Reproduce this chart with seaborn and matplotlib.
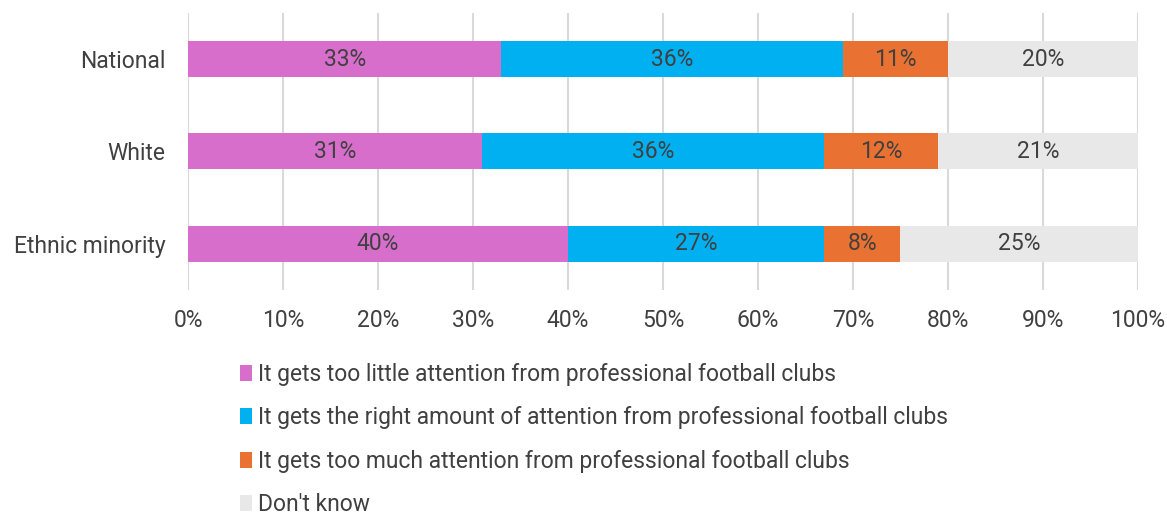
import matplotlib
matplotlib.use("Agg")
import matplotlib.pyplot as plt
from matplotlib.patches import Patch
from matplotlib.ticker import PercentFormatter
import numpy as np
import pandas as pd
import seaborn as sns

groups = ["National", "White", "Ethnic minority"]
series_names = [
    "It gets too little attention from professional football clubs",
    "It gets the right amount of attention from professional football clubs",
    "It gets too much attention from professional football clubs",
    "Don't know",
]
too_little = [33, 31, 40]
right_amount = [36, 36, 27]
too_much = [11, 12, 8]
dont_know = [20, 21, 25]
colors = ["#D86ECC", "#00B0F0", "#E97132", "#E8E8E8"]
text_color = "#404040"
fs = 16.5

sns.set_theme(style="white")
plt.rcParams["font.family"] = ["Roboto", "DejaVu Sans"]

values = np.array([too_little, right_amount, too_much, dont_know], dtype=float) / 100
cum = np.cumsum(values, axis=0)

fig = plt.figure(figsize=(11.67, 5.17), dpi=100)
ax = fig.add_axes([0.1611, 0.439, 0.8140, 0.536])

# stacked horizontal bars: draw the cumulative totals from the outermost segment inwards
for i in reversed(range(len(series_names))):
    df = pd.DataFrame({"group": groups, "value": cum[i]})
    sns.barplot(data=df, x="value", y="group", orient="h", color=colors[i],
                saturation=1, width=0.39, linewidth=0, ax=ax, zorder=2)

# segment value labels
for i in range(len(series_names)):
    for j in range(len(groups)):
        start = cum[i, j] - values[i, j]
        ax.text(start + values[i, j] / 2, j, f"{values[i, j] * 100:.0f}%",
                ha="center", va="center", fontsize=fs, color=text_color, zorder=3)

ax.set_xlim(0, 1)
ax.set_ylim(2.5, -0.5)
ax.set_xticks(np.arange(0, 1.01, 0.1))
ax.xaxis.set_major_formatter(PercentFormatter(1.0, decimals=0))
ax.set_xlabel("")
ax.set_ylabel("")
ax.grid(axis="x", color="#D9D9D9", linewidth=1.5, zorder=0)
ax.grid(axis="y", visible=False)
ax.set_axisbelow(True)
for s in ax.spines.values():
    s.set_visible(False)
ax.tick_params(axis="x", length=0, pad=14, labelsize=fs, labelcolor=text_color)
ax.tick_params(axis="y", length=0, pad=16, labelsize=fs, labelcolor=text_color)

handles = [Patch(facecolor=c, edgecolor="none") for c in colors]
fig.legend(handles, series_names, loc="upper left", bbox_to_anchor=(0.2057, 0.298),
           frameon=False, fontsize=fs, labelcolor=text_color, handlelength=0.5,
           handleheight=0.7, handletextpad=0.3, labelspacing=0.89,
           borderaxespad=0, borderpad=0)

fig.savefig("out.png", dpi=100)
